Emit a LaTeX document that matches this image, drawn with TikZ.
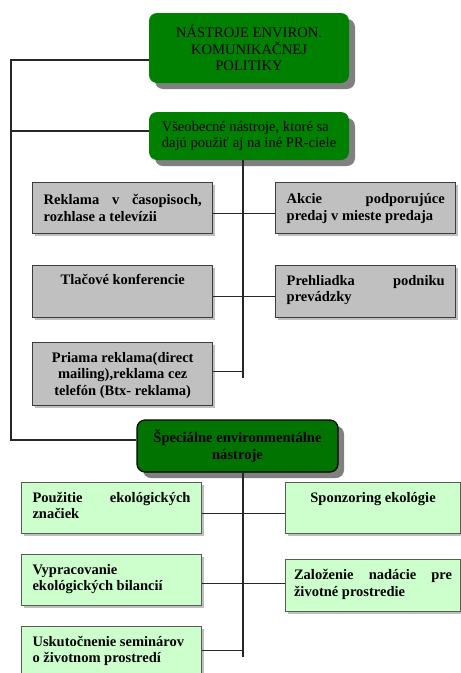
\documentclass[tikz,border=0pt]{standalone}
\usepackage{fontspec}
\setmainfont{Liberation Serif}
\usetikzlibrary{shadows}
\definecolor{topgreen}{RGB}{0,128,0}
\definecolor{specgreen}{RGB}{0,115,0}
\definecolor{boxgray}{RGB}{192,192,192}
\definecolor{lightgreen}{RGB}{204,255,204}
\definecolor{edgegray}{RGB}{60,60,60}
\definecolor{lgedge}{RGB}{90,90,90}
\hbadness=10000
% text block of a box: height, alignment, first-line strut, text
\newcommand\boxtxt[4]{\parbox[c][#1][t]{158pt}{\hyphenpenalty=10000 #2\rule{0pt}{#3}#4}}

\begin{document}
\begin{tikzpicture}[x=1pt,y=-1pt,
  greenbox/.style={fill=topgreen, rounded corners=8pt, inner sep=0pt,
    drop shadow={shadow xshift=6pt, shadow yshift=-6pt, fill=black!50, opacity=1},
    font=\fontsize{14.6}{16.5}\selectfont},
  specbox/.style={greenbox, fill=specgreen, draw=black, line width=1.2pt,
    font=\fontsize{14.6}{17}\selectfont\bfseries},
  graybox/.style={fill=boxgray, draw=edgegray, line width=1.4pt, inner xsep=11pt, inner ysep=0pt,
    anchor=north west, font=\fontsize{14.5}{16.5}\selectfont\bfseries,
    drop shadow={shadow xshift=2pt, shadow yshift=-2pt, fill=black!25, opacity=1}},
  lgbox/.style={graybox, fill=lightgreen, draw=lgedge, line width=1.1pt},
  conn/.style={draw=black!85, line width=1.1pt}]

\useasboundingbox (0,0) rectangle (461,673);
\clip (0,0) rectangle (461,673);

% head boxes
\node[greenbox, minimum width=200pt, minimum height=70pt, align=center] (top) at (249,48)
  {NÁSTROJE ENVIRON.\\KOMUNIKAČNEJ\\POLITIKY};
\node[greenbox, minimum width=200pt, minimum height=48pt, align=left] (gen) at (249,136)
  {Všeobecné nástroje, ktoré sa\\dajú použiť aj na iné PR-ciele};
\node[specbox, minimum width=201pt, minimum height=52pt, align=center] (spec) at (237.5,446)
  {Špeciálne environmentálne\\nástroje};

% general tools
\node[graybox] (g1L) at (32,182) {\boxtxt{51pt}{}{22pt}{Reklama v časopisoch,\linebreak rozhlase a televízii}};
\node[graybox] (g1R) at (275,182) {\boxtxt{51pt}{}{21pt}{Akcie podporujúce\linebreak predaj v mieste predaja}};
\node[graybox] (g2L) at (32,265) {\boxtxt{52pt}{\centering}{19pt}{Tlačové konferencie}};
\node[graybox] (g2R) at (275,265) {\boxtxt{52pt}{}{19.5pt}{Prehliadka podniku\linebreak prevádzky}};
\node[graybox] (g3L) at (32,342) {\boxtxt{63pt}{\centering}{19.5pt}{Priama reklama(direct\\ mailing),reklama cez\\ telefón (Btx- reklama)}};

% special environmental tools
\node[lgbox] (e1L) at (21,482) {\boxtxt{51pt}{}{19.5pt}{Použitie ekológických\linebreak značiek}};
\node[lgbox, inner xsep=8.5pt] (e1R) at (285,482) {\boxtxt{51pt}{\centering}{19.5pt}{Sponzoring ekológie}};
\node[lgbox] (e2L) at (21,554) {\boxtxt{51pt}{}{19.5pt}{Vypracovanie\\ ekológických bilancií}};
\node[lgbox, inner xsep=8.5pt] (e2R) at (285,559) {\boxtxt{52pt}{}{20pt}{Založenie nadácie pre\linebreak životné prostredie}};
\node[lgbox] (e3L) at (21,626) {\boxtxt{64pt}{}{19.5pt}{Uskutočnenie seminárov\\ o životnom prostredí}};

% spine on the left
\coordinate (spine) at (11,0);
\draw[conn] ([yshift=-12pt]top.west) -| ([yshift=6pt]spec.west -| spine) -- ([yshift=6pt]spec.west);
\draw[conn] ([yshift=5pt]gen.west) -- ([yshift=5pt]gen.west -| spine);

% branch of general tools
\coordinate (hub1) at (243,378);
\draw[conn] (gen.south -| hub1) -- (hub1);
\draw[conn] ([yshift=-5.5pt]g1L.east) -- ([yshift=-5.5pt]g1L.east -| g1R.west);
\draw[conn] ([yshift=-5pt]g2L.east) -- ([yshift=-5pt]g2L.east -| g2R.west);
\draw[conn] ([yshift=2.5pt]g3L.east) -- ([yshift=2.5pt]g3L.east -| hub1);

% branch of special tools
\coordinate (hub2) at (243,657);
\draw[conn] (spec.south -| hub2) -- (hub2);
\draw[conn] ([yshift=-5.5pt]e1L.east) -- ([yshift=-5.5pt]e1L.east -| e1R.west);
\draw[conn] ([yshift=-3.5pt]e2L.east) -- ([yshift=-3.5pt]e2L.east -| e2R.west);
\draw[conn] ([yshift=8pt]e3L.east) -- ([yshift=8pt]e3L.east -| hub2);
\end{tikzpicture}
\end{document}
